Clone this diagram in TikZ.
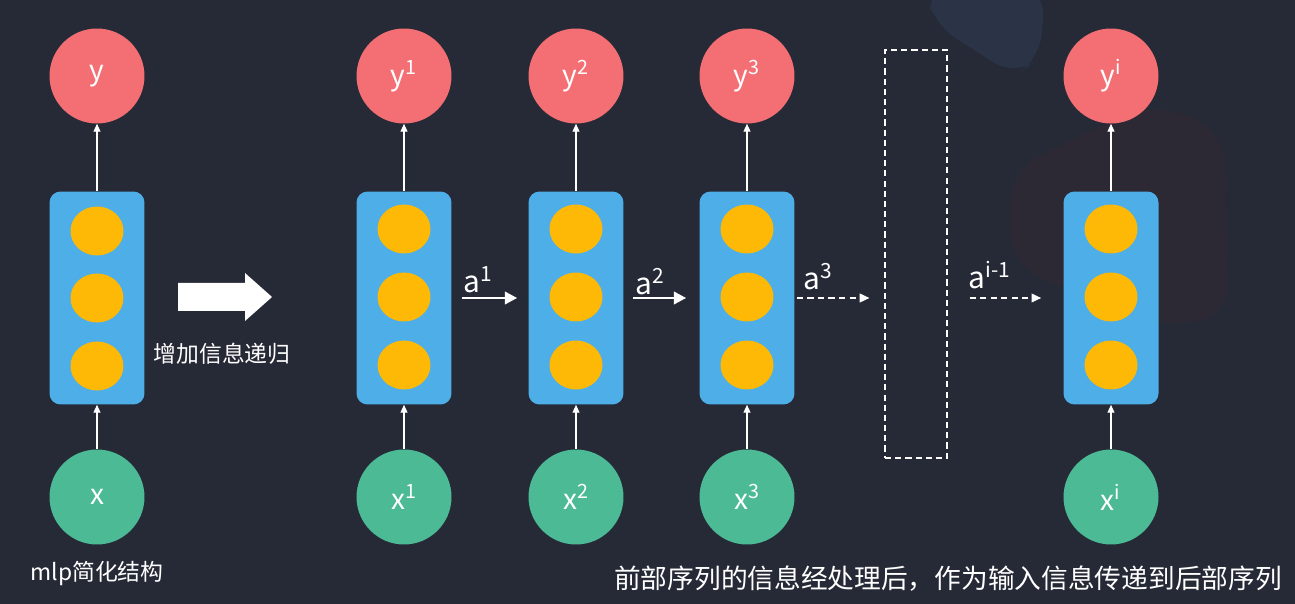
\documentclass[tikz,border=0pt]{standalone}
\usepackage{fontspec}
\setmainfont{Noto Sans CJK SC}
\usepackage{xcolor}
\usepackage{tikz}
\usetikzlibrary{shapes.geometric,arrows.meta}

\definecolor{slidebg}{HTML}{262A36}
\definecolor{bluepatch}{HTML}{2B3446}
\definecolor{redpatch}{HTML}{2C2934}
\definecolor{outred}{HTML}{F36F74}
\definecolor{ingreen}{HTML}{4CBB95}
\definecolor{cellblue}{HTML}{4DAEE8}
\definecolor{unityellow}{HTML}{FDB906}

\begin{document}
\begin{tikzpicture}[x=0.02cm, y=-0.02cm,
	outnode/.style={circle, fill=outred, minimum size=1.9cm, inner sep=0pt, text=white, font=\fontsize{16}{18}\selectfont},
	innode/.style={circle, fill=ingreen, minimum size=1.9cm, inner sep=0pt, text=white, font=\fontsize{16}{18}\selectfont},
	cell/.style={rectangle, rounded corners=0.22cm, fill=cellblue, minimum width=1.9cm, minimum height=4.26cm, inner sep=0pt},
	unit/.style={ellipse, fill=unityellow, minimum width=1.06cm, minimum height=0.98cm, inner sep=0pt},
	uparrow/.style={white, line width=0.6pt, -{Triangle[length=4.5pt, width=4pt]}},
	recur/.style={white, line width=1.6pt, -{Triangle[length=7pt, width=7pt]}},
	recurdash/.style={white, line width=0.8pt, dash pattern=on 3.5pt off 2.5pt, -{Triangle[length=5.5pt, width=5pt]}},
	label/.style={text=white, font=\fontsize{17}{19}\selectfont},
	caption/.style={text=white, font=\fontsize{13}{15}\selectfont}]

	% slide background
	\useasboundingbox (0,0) rectangle (1295,604);
	\clip (0,0) rectangle (1295,604);
	\fill[slidebg] (0,0) rectangle (1295,604);
	\fill[bluepatch, rounded corners=14] (925,-10) -- (1045,-10) -- (1040,58) -- (1015,76) -- (935,25) -- cycle;
	\fill[redpatch, rounded corners=20] (1010,170) -- (1150,102) -- (1225,130) -- (1228,320) -- (1150,325) -- (1010,265) -- cycle;

	% mlp column
	\node (y0) at (97,76) [outnode] {y};
	\node (b0) at (97,298) [cell] {};
	\node (u01) at (97,231) [unit] {};
	\node (u02) at (97,298) [unit] {};
	\node (u03) at (97,366) [unit] {};
	\node (x0) at (97,497) [innode] {x};
	\draw[uparrow] (x0) -- (b0);
	\draw[uparrow] (b0) -- (y0);
	\node (mlp) at (97,573) [caption] {mlp简化结构};

	% big arrow
	\fill[white] (178,283) -- (245,283) -- (245,273) -- (272,297) -- (245,321) -- (245,311) -- (178,311) -- cycle;
	\node (recurtxt) at (222,354) [caption] {增加信息递归};

	% rnn columns
	\node (y1) at (404,76) [outnode] {y\textsuperscript{1}};
	\node (b1) at (404,298) [cell] {};
	\node (u11) at (404,229) [unit] {};
	\node (u12) at (404,297) [unit] {};
	\node (u13) at (404,365) [unit] {};
	\node (x1) at (404,497) [innode] {x\textsuperscript{1}};

	\node (y2) at (576,76) [outnode] {y\textsuperscript{2}};
	\node (b2) at (576,298) [cell] {};
	\node (u21) at (576,229) [unit] {};
	\node (u22) at (576,297) [unit] {};
	\node (u23) at (576,365) [unit] {};
	\node (x2) at (576,497) [innode] {x\textsuperscript{2}};

	\node (y3) at (747,76) [outnode] {y\textsuperscript{3}};
	\node (b3) at (747,298) [cell] {};
	\node (u31) at (747,229) [unit] {};
	\node (u32) at (747,297) [unit] {};
	\node (u33) at (747,365) [unit] {};
	\node (x3) at (747,497) [innode] {x\textsuperscript{3}};

	\node (gap) at (916,254) [draw=white, line width=0.7pt, dash pattern=on 3.5pt off 2.3pt, minimum width=1.24cm, minimum height=8.16cm] {};

	\node (yi) at (1111,76) [outnode] {y\textsuperscript{i}};
	\node (bi) at (1111,298) [cell] {};
	\node (ui1) at (1111,229) [unit] {};
	\node (ui2) at (1111,297) [unit] {};
	\node (ui3) at (1111,365) [unit] {};
	\node (xi) at (1111,497) [innode] {x\textsuperscript{i}};

	\draw[uparrow] (x1) -- (b1);
	\draw[uparrow] (b1) -- (y1);
	\draw[uparrow] (x2) -- (b2);
	\draw[uparrow] (b2) -- (y2);
	\draw[uparrow] (x3) -- (b3);
	\draw[uparrow] (b3) -- (y3);
	\draw[uparrow] (xi) -- (bi);
	\draw[uparrow] (bi) -- (yi);

	% passing a along
	\draw[recur, shorten <=0.2cm, shorten >=0.22cm] (b1) -- (b2);
	\draw[recur, shorten <=0.18cm, shorten >=0.26cm] (b2) -- (b3);
	\draw[recurdash, shorten <=0.04cm, shorten >=0.3cm] (b3) -- (gap.west |- b3);
	\draw[recurdash, shorten <=0.44cm, shorten >=0.44cm] (gap.east |- bi) -- (bi);
	\node (a1) at (478,280) [label] {a\textsuperscript{1}};
	\node (a2) at (650,282) [label] {a\textsuperscript{2}};
	\node (a3) at (818,277) [label] {a\textsuperscript{3}};
	\node (ai) at (990,275) [label] {a\textsuperscript{i-1}};

	\node (note) at (948,579) [text=white, font=\fontsize{15.2}{17}\selectfont] {前部序列的信息经处理后，作为输入信息传递到后部序列};
\end{tikzpicture}
\end{document}
